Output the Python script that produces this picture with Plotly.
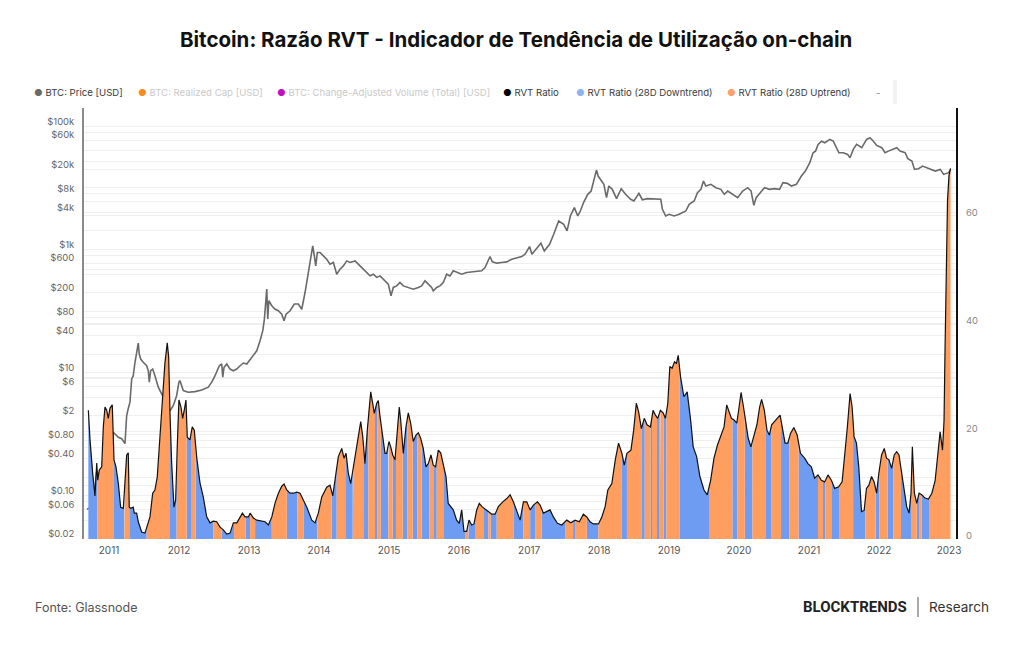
import numpy as np
import pandas as pd
import plotly.graph_objects as go

# ---------------- DATA ----------------
# BTC price: decimal year, USD
price_year = [2010.70, 2010.76, 2010.80, 2010.84, 2010.87, 2010.92, 2010.96, 2011.00, 2011.04, 2011.076,
              2011.147, 2011.196, 2011.243, 2011.267, 2011.29, 2011.314, 2011.339, 2011.361, 2011.386, 2011.41,
              2011.433, 2011.447, 2011.467, 2011.504, 2011.553, 2011.576, 2011.59, 2011.61, 2011.639, 2011.671,
              2011.719, 2011.767, 2011.79, 2011.84, 2011.886, 2011.933, 2011.981, 2012.014, 2012.029, 2012.053,
              2012.076, 2012.147, 2012.243, 2012.339, 2012.433, 2012.481, 2012.529, 2012.59, 2012.624, 2012.639,
              2012.657, 2012.696, 2012.743, 2012.79, 2012.839, 2012.886, 2012.933, 2012.981, 2013.029, 2013.076,
              2013.124, 2013.171, 2013.21, 2013.233, 2013.267, 2013.281, 2013.296, 2013.339, 2013.386, 2013.433,
              2013.481, 2013.514, 2013.543, 2013.6, 2013.661, 2013.719, 2013.767, 2013.814, 2013.853, 2013.886,
              2013.924, 2013.947, 2013.967, 2013.99, 2014.029, 2014.076, 2014.124, 2014.171, 2014.219, 2014.267,
              2014.314, 2014.361, 2014.41, 2014.457, 2014.529, 2014.6, 2014.671, 2014.743, 2014.79, 2014.839,
              2014.886, 2014.957, 2015.004, 2015.043, 2015.076, 2015.124, 2015.171, 2015.219, 2015.29, 2015.361,
              2015.433, 2015.481, 2015.529, 2015.576, 2015.624, 2015.647, 2015.696, 2015.743, 2015.79, 2015.839,
              2015.886, 2015.933, 2015.981, 2016.053, 2016.124, 2016.196, 2016.267, 2016.339, 2016.386, 2016.433,
              2016.457, 2016.49, 2016.553, 2016.624, 2016.696, 2016.767, 2016.839, 2016.91, 2016.957, 2017.021,
              2017.054, 2017.126, 2017.183, 2017.231, 2017.307, 2017.366, 2017.437, 2017.509, 2017.557, 2017.604,
              2017.661, 2017.71, 2017.747, 2017.796, 2017.853, 2017.901, 2017.939, 2017.977, 2018.001, 2018.034,
              2018.083, 2018.121, 2018.154, 2018.203, 2018.264, 2018.331, 2018.393, 2018.466, 2018.513, 2018.584,
              2018.633, 2018.704, 2018.8, 2018.896, 2018.92, 2018.967, 2019.016, 2019.087, 2019.159, 2019.254,
              2019.303, 2019.374, 2019.421, 2019.47, 2019.507, 2019.541, 2019.613, 2019.684, 2019.756, 2019.804,
              2019.853, 2019.924, 2019.996, 2020.067, 2020.139, 2020.187, 2020.226, 2020.259, 2020.321, 2020.379,
              2020.45, 2020.521, 2020.593, 2020.641, 2020.703, 2020.761, 2020.833, 2020.904, 2020.961, 2021.024,
              2021.071, 2021.106, 2021.143, 2021.191, 2021.239, 2021.311, 2021.359, 2021.407, 2021.44, 2021.503,
              2021.564, 2021.599, 2021.646, 2021.693, 2021.766, 2021.837, 2021.884, 2021.933, 2021.98, 2022.053,
              2022.1, 2022.147, 2022.196, 2022.267, 2022.314, 2022.387, 2022.426, 2022.483, 2022.521, 2022.579,
              2022.636, 2022.699, 2022.77, 2022.817, 2022.889, 2022.937, 2023.009, 2023.036]
price_usd = [0.06, 0.065, 0.10, 0.25, 0.22, 0.24, 0.27, 0.30, 0.60, 1.07,
             0.89, 0.84, 0.70, 2.0, 2.6, 3.3, 7.9, 8.9, 14.7, 21.3,
             30.2, 20, 16.6, 14.7, 12.9, 10.7, 7.0, 10.7, 11.4, 8.9,
             5.8, 4.5, 4.0, 3.0, 2.4, 2.9, 4.2, 7.0, 7.4, 6.1,
             5.1, 4.8, 4.9, 5.2, 5.8, 7.0, 8.9, 12.9, 13.8, 8.4,
             12.2, 13.8, 11.4, 10.7, 11.4, 12.9, 14.3, 13.8, 16.2, 18.8,
             22.6, 32.9, 47.9, 74, 227, 74, 147, 122, 107, 101,
             89, 69.5, 89, 101, 130, 130, 107, 200, 373, 695,
             1143, 787, 542, 893, 893, 787, 695, 577, 615, 397,
             479, 542, 653, 615, 653, 542, 450, 373, 397, 352,
             373, 310, 274, 177, 242, 256, 291, 256, 242, 227,
             242, 256, 310, 274, 242, 213, 242, 256, 291, 397,
             373, 450, 424, 397, 424, 432, 450, 450, 510, 695,
             769, 630, 600, 615, 630, 695, 741, 769, 839, 1117,
             839, 1076, 1265, 948, 1219, 1770, 2911, 2570, 2004, 3508,
             4797, 3508, 4227, 5916, 7888, 8913, 12970, 19540, 15630, 13800,
             11460, 6966, 10770, 9506, 6714, 9750, 7888, 6546, 6138, 8185,
             6440, 6714, 6546, 6546, 4498, 3508, 3733, 3508, 3733, 4227,
             5432, 6138, 8395, 9506, 12970, 10770, 11460, 10120, 9506, 7888,
             8913, 7888, 6966, 8913, 10120, 8913, 5224, 6966, 8395, 10120,
             9506, 9750, 9506, 12190, 11880, 10770, 11460, 15630, 18840, 25760,
             37410, 39720, 51050, 57680, 54330, 61520, 57680, 45080, 37410, 37410,
             35160, 31050, 42360, 51050, 45080, 61520, 65610, 57680, 49200, 45080,
             37410, 39720, 42360, 45080, 39720, 37410, 29920, 27350, 20050, 20600,
             22700, 21380, 19540, 18840, 20050, 16630, 17740, 19900]

# RVT ratio: decimal year, ratio
rvt_year = [2010.719, 2010.743, 2010.781, 2010.814, 2010.839, 2010.853, 2010.876, 2010.91, 2010.933, 2010.957,
            2010.981, 2011.004, 2011.029, 2011.061, 2011.086, 2011.114, 2011.147, 2011.181, 2011.219, 2011.243,
            2011.267, 2011.29, 2011.304, 2011.324, 2011.361, 2011.376, 2011.41, 2011.433, 2011.481, 2011.529,
            2011.553, 2011.6, 2011.639, 2011.671, 2011.704, 2011.743, 2011.781, 2011.814, 2011.847, 2011.867,
            2011.886, 2011.91, 2011.943, 2011.967, 2011.99, 2012.014, 2012.043, 2012.067, 2012.09, 2012.114,
            2012.133, 2012.171, 2012.204, 2012.233, 2012.267, 2012.314, 2012.361, 2012.41, 2012.457, 2012.504,
            2012.553, 2012.6, 2012.647, 2012.696, 2012.743, 2012.79, 2012.839, 2012.886, 2012.919, 2012.957,
            2013.004, 2013.029, 2013.076, 2013.124, 2013.196, 2013.243, 2013.29, 2013.339, 2013.386, 2013.433,
            2013.481, 2013.514, 2013.553, 2013.6, 2013.647, 2013.696, 2013.743, 2013.79, 2013.839, 2013.91,
            2013.957, 2014.004, 2014.053, 2014.124, 2014.171, 2014.21, 2014.243, 2014.29, 2014.339, 2014.371,
            2014.4, 2014.433, 2014.467, 2014.504, 2014.543, 2014.576, 2014.61, 2014.639, 2014.671, 2014.704,
            2014.733, 2014.753, 2014.781, 2014.804, 2014.839, 2014.861, 2014.886, 2014.924, 2014.957, 2014.981,
            2015.014, 2015.039, 2015.067, 2015.1, 2015.133, 2015.161, 2015.181, 2015.219, 2015.257, 2015.29,
            2015.324, 2015.361, 2015.4, 2015.433, 2015.467, 2015.504, 2015.543, 2015.576, 2015.614, 2015.647,
            2015.681, 2015.719, 2015.753, 2015.79, 2015.829, 2015.861, 2015.9, 2015.933, 2015.981, 2016.019,
            2016.053, 2016.086, 2016.124, 2016.157, 2016.196, 2016.229, 2016.267, 2016.304, 2016.343, 2016.386,
            2016.433, 2016.481, 2016.529, 2016.576, 2016.639, 2016.696, 2016.743, 2016.79, 2016.839, 2016.886,
            2016.933, 2016.981, 2017.029, 2017.076, 2017.133, 2017.171, 2017.219, 2017.267, 2017.314, 2017.361,
            2017.419, 2017.481, 2017.553, 2017.61, 2017.671, 2017.733, 2017.79, 2017.839, 2017.886, 2017.933,
            2018.006, 2018.054, 2018.101, 2018.14, 2018.197, 2018.246, 2018.293, 2018.341, 2018.374, 2018.413,
            2018.47, 2018.509, 2018.547, 2018.58, 2018.619, 2018.661, 2018.7, 2018.749, 2018.786, 2018.82,
            2018.853, 2018.891, 2018.93, 2018.963, 2018.997, 2019.026, 2019.059, 2019.093, 2019.121, 2019.146,
            2019.179, 2019.227, 2019.274, 2019.323, 2019.36, 2019.409, 2019.456, 2019.514, 2019.561, 2019.609,
            2019.657, 2019.706, 2019.753, 2019.801, 2019.839, 2019.873, 2019.906, 2019.944, 2019.983, 2020.016,
            2020.044, 2020.079, 2020.111, 2020.146, 2020.184, 2020.221, 2020.27, 2020.309, 2020.337, 2020.376,
            2020.413, 2020.447, 2020.48, 2020.519, 2020.567, 2020.6, 2020.639, 2020.671, 2020.71, 2020.749,
            2020.796, 2020.844, 2020.891, 2020.95, 2020.997, 2021.046, 2021.093, 2021.141, 2021.189, 2021.237,
            2021.284, 2021.333, 2021.38, 2021.437, 2021.486, 2021.524, 2021.561, 2021.6, 2021.629, 2021.657,
            2021.691, 2021.724, 2021.763, 2021.801, 2021.834, 2021.869, 2021.907, 2021.944, 2021.979, 2022.011,
            2022.05, 2022.089, 2022.121, 2022.156, 2022.194, 2022.231, 2022.266, 2022.299, 2022.327, 2022.361,
            2022.409, 2022.443, 2022.471, 2022.49, 2022.519, 2022.553, 2022.586, 2022.624, 2022.671, 2022.72,
            2022.769, 2022.816, 2022.854, 2022.887, 2022.921, 2022.943, 2022.957, 2022.976, 2022.993, 2023.014,
            2023.036]
rvt_value = [23.9, 18.4, 12.2, 8.0, 14.1, 10.9, 12.8, 13.4, 20.8, 24.5,
             23.9, 22.4, 24.3, 24.9, 14.7, 13.4, 10.4, 5.9, 5.7, 10.4,
             15.6, 16.0, 5.9, 5.7, 5.9, 4.8, 4.8, 3.2, 1.3, 1.1,
             2.2, 4.1, 8.5, 9.1, 11.5, 18.4, 26.3, 32.7, 36.4, 33.8,
             23.6, 14.1, 5.9, 7.2, 17.1, 25.8, 24.5, 22.4, 23.9, 25.8,
             18.9, 18.4, 20.8, 20.2, 15.2, 10.4, 7.8, 4.1, 3.0, 3.3,
             3.2, 2.2, 1.7, 0.9, 1.1, 3.0, 3.0, 4.1, 4.8, 4.1,
             4.1, 4.8, 3.9, 3.5, 3.3, 3.2, 2.6, 4.1, 6.7, 8.5,
             9.8, 10.2, 9.1, 8.5, 8.5, 8.7, 8.5, 7.2, 5.9, 3.5,
             3.0, 4.8, 7.8, 9.6, 10.0, 8.0, 10.9, 15.3, 16.8, 15.0,
             15.9, 12.2, 10.3, 13.4, 16.5, 19.6, 21.8, 19.0, 14.0, 20.2,
             25.2, 27.3, 25.2, 23.3, 25.2, 25.7, 22.7, 19.0, 15.9, 15.9,
             18.1, 17.1, 15.6, 14.7, 20.2, 24.5, 22.1, 15.9, 20.8, 23.4,
             21.5, 18.1, 19.3, 19.7, 18.7, 16.8, 13.4, 14.0, 15.6, 13.7,
             13.4, 16.5, 16.0, 14.0, 11.6, 6.6, 6.0, 5.4, 3.5, 2.9,
             5.4, 1.4, 1.4, 3.5, 2.6, 2.8, 5.4, 6.6, 6.0, 5.5,
             5.1, 4.6, 4.6, 6.0, 6.9, 7.5, 8.2, 6.9, 5.1, 3.5,
             6.9, 6.9, 5.4, 6.3, 6.9, 6.3, 4.8, 5.1, 5.4, 4.1,
             2.9, 2.6, 3.5, 3.0, 3.5, 3.2, 4.6, 4.1, 3.2, 2.8,
             2.8, 4.1, 6.0, 9.1, 10.3, 14.7, 17.8, 15.9, 13.7, 15.9,
             16.5, 20.2, 25.2, 23.6, 20.5, 22.4, 21.2, 20.8, 23.9, 23.0,
             22.4, 23.9, 23.4, 22.4, 25.2, 32.0, 31.7, 32.9, 32.6, 34.1,
             30.1, 26.4, 27.3, 22.1, 17.1, 15.3, 11.6, 9.1, 8.2, 10.9,
             15.0, 17.4, 19.3, 20.8, 24.9, 23.6, 22.4, 22.1, 21.5, 24.5,
             27.2, 24.5, 22.1, 18.7, 17.1, 18.7, 21.2, 24.5, 25.9, 23.9,
             20.2, 19.3, 21.2, 21.8, 22.4, 23.0, 20.2, 17.8, 17.8, 19.6,
             20.7, 19.3, 15.9, 15.0, 14.0, 13.4, 11.3, 11.9, 10.9, 10.6,
             11.9, 10.9, 9.4, 9.7, 10.6, 15.3, 20.8, 27.0, 24.5, 19.0,
             17.8, 13.4, 5.1, 5.3, 9.4, 10.0, 11.6, 10.6, 8.5, 12.2,
             15.6, 16.8, 15.0, 14.7, 13.1, 15.6, 16.2, 15.6, 13.1, 10.3,
             6.0, 4.8, 8.5, 17.1, 8.5, 6.6, 8.5, 8.2, 7.6, 7.4,
             8.5, 10.9, 15.9, 19.9, 16.5, 22.0, 35.0, 55.0, 63.0, 67.5,
             68.8]

# 28-day uptrend periods (decimal years); everything else is downtrend
uptrend_start = [2010.847, 2011.233, 2011.553, 2011.981, 2012.186, 2012.504, 2012.8, 2013.029, 2013.339, 2013.704,
                 2013.99, 2014.267, 2014.496, 2014.719, 2014.847, 2015.004, 2015.114, 2015.276, 2015.419, 2015.59,
                 2015.696, 2016.1, 2016.243, 2016.433, 2016.553, 2016.933, 2017.1, 2017.529, 2017.671, 2018.006,
                 2018.413, 2018.667, 2018.771, 2018.881, 2018.977, 2019.586, 2019.993, 2020.207, 2020.48, 2020.734,
                 2021.141, 2021.246, 2021.451, 2021.82, 2022.017, 2022.217, 2022.471, 2022.586, 2022.729]
uptrend_end = [2011.076, 2011.304, 2011.876, 2012.124, 2012.253, 2012.624, 2012.967, 2013.1, 2013.553, 2013.79,
               2014.196, 2014.4, 2014.657, 2014.814, 2014.896, 2015.067, 2015.21, 2015.353, 2015.481, 2015.647,
               2015.79, 2016.147, 2016.361, 2016.467, 2016.79, 2017.029, 2017.196, 2017.643, 2017.839, 2018.341,
               2018.619, 2018.749, 2018.843, 2018.94, 2019.169, 2019.92, 2020.097, 2020.399, 2020.614, 2020.863,
               2021.213, 2021.341, 2021.643, 2021.964, 2022.136, 2022.327, 2022.553, 2022.624, 2023.05]

price_tick_values = [0.02, 0.04, 0.06, 0.08, 0.1, 0.2, 0.4, 0.6, 0.8, 1, 2, 4, 6, 8, 10, 20, 40, 60, 80,
                     100, 200, 400, 600, 800, 1000, 2000, 4000, 6000, 8000, 10000, 20000, 40000, 60000,
                     80000, 100000, 200000]
price_tick_text = ["$0.02", "", "$0.06", "", "$0.10", "", "$0.40", "", "$0.80", "", "$2", "", "$6", "", "$10",
                   "", "$40", "", "$80", "", "$200", "", "$600", "", "$1k", "", "$4k", "", "$8k", "", "$20k",
                   "", "$60k", "", "$100k", ""]
rvt_tick_values = [0, 10, 20, 30, 40, 50, 60, 70, 80]
rvt_tick_text = ["0", "", "20", "", "40", "", "60", "", ""]
year_ticks = list(range(2011, 2024))

# ---------------- HELPERS ----------------
def yr(y):
    y0 = int(np.floor(y))
    a = pd.Timestamp(year=y0, month=1, day=1)
    b = pd.Timestamp(year=y0 + 1, month=1, day=1)
    return a + (b - a) * (y - y0)

ORANGE = "#FF9E5E"
BLUE = "#6E9CF2"

T = np.array(rvt_year)
V = np.array(rvt_value)
edges = sorted(set([T[0], T[-1]] + [e for e in uptrend_start + uptrend_end if T[0] < e < T[-1]]))


def is_up(m):
    return any(s <= m < e for s, e in zip(uptrend_start, uptrend_end))


polys = {True: ([], []), False: ([], [])}
for a, b in zip(edges[:-1], edges[1:]):
    key = is_up((a + b) / 2)
    inner = list(T[(T > a) & (T < b)])
    xs = [a] + inner + [b]
    ys = list(np.interp(xs, T, V))
    px, py = polys[key]
    px += [yr(x) for x in [a] + xs + [b]] + [None]
    py += [0] + ys + [0] + [None]

fig = go.Figure()

fig.add_trace(go.Scatter(x=[yr(y) for y in price_year], y=price_usd, mode="lines",
                         line=dict(color="#6a6a6a", width=1.6), yaxis="y", showlegend=False,
                         name="BTC: Price [USD]"))
fig.add_trace(go.Scatter(x=polys[False][0], y=polys[False][1], mode="lines", fill="toself",
                         fillcolor=BLUE, line=dict(width=0, color=BLUE), yaxis="y2", showlegend=False,
                         name="RVT Ratio (28D Downtrend)"))
fig.add_trace(go.Scatter(x=polys[True][0], y=polys[True][1], mode="lines", fill="toself",
                         fillcolor=ORANGE, line=dict(width=0, color=ORANGE), yaxis="y2", showlegend=False,
                         name="RVT Ratio (28D Uptrend)"))
fig.add_trace(go.Scatter(x=[yr(y) for y in rvt_year], y=rvt_value, mode="lines",
                         line=dict(color="#111111", width=1.2), yaxis="y2", showlegend=False,
                         name="RVT Ratio"))

L, R, TOP, BOT = 84, 956, 108, 539
W, H = 1024, 645


def PX(p):
    return (p - L) / (R - L)


def PY(p):
    return (BOT - p) / (BOT - TOP)


FONT = "Inter, Roboto, sans-serif"
annotations = []
annotations.append(dict(text="<b>Bitcoin: Razão RVT - Indicador de Tendência de Utilização on-chain</b>",
                        x=PX(516), y=PY(40), xref="paper", yref="paper", xanchor="center", yanchor="middle",
                        showarrow=False, font=dict(family=FONT, size=20.5, color="#111111")))

legend_items = [
    ("#6a6a6a", "BTC: Price [USD]", 32, "#3a3a3a"),
    ("#FF8A1F", "BTC: Realized Cap [USD]", 136, "#c9c9c9"),
    ("#C010C0", "BTC: Change-Adjusted Volume (Total) [USD]", 275, "#c9c9c9"),
    ("#000000", "RVT Ratio", 501, "#3a3a3a"),
    ("#8DB3F7", "RVT Ratio (28D Downtrend)", 574, "#3a3a3a"),
    ("#FFA066", "RVT Ratio (28D Uptrend)", 725, "#3a3a3a"),
]
for dot, label, x0, tc in legend_items:
    annotations.append(dict(text=f"<span style='color:{dot}'>●</span> {label}", x=PX(x0), y=PY(92),
                            xref="paper", yref="paper", xanchor="left", yanchor="middle", showarrow=False,
                            font=dict(family=FONT, size=9.6, color=tc)))
annotations.append(dict(text="-", x=PX(878), y=PY(92), xref="paper", yref="paper", xanchor="center",
                        yanchor="middle", showarrow=False, font=dict(family=FONT, size=9.6, color="#888888")))

annotations.append(dict(text="Fonte: Glassnode", x=PX(33), y=PY(607), xref="paper", yref="paper",
                        xanchor="left", yanchor="middle", showarrow=False,
                        font=dict(family=FONT, size=12.5, color="#555555")))
annotations.append(dict(text="<b>BLOCKTRENDS</b>", x=PX(909), y=PY(607), xref="paper", yref="paper",
                        xanchor="right", yanchor="middle", showarrow=False,
                        font=dict(family="Roboto, Inter, sans-serif", size=15, color="#222222")))
annotations.append(dict(text="Research", x=PX(927), y=PY(607), xref="paper", yref="paper",
                        xanchor="left", yanchor="middle", showarrow=False,
                        font=dict(family=FONT, size=13.6, color="#333333")))

shapes = [
    dict(type="line", xref="paper", yref="paper", x0=PX(918), x1=PX(918), y0=PY(597), y1=PY(617),
         line=dict(color="#555555", width=1)),
    dict(type="rect", xref="paper", yref="paper", x0=PX(893), x1=PX(897), y0=PY(80), y1=PY(104),
         fillcolor="#f2f2f2", line=dict(width=0)),
]

fig.update_layout(
    width=W, height=H,
    margin=dict(l=L, r=W - R, t=TOP, b=H - BOT, pad=0),
    paper_bgcolor="white", plot_bgcolor="white",
    showlegend=False,
    font=dict(family=FONT, color="#666666"),
    annotations=annotations,
    shapes=shapes,
    xaxis=dict(type="date", range=[yr(2010.657), yr(2023.114)], showgrid=False, zeroline=False,
               showline=False, tickvals=[yr(y) for y in year_ticks], ticktext=[str(y) for y in year_ticks],
               ticks="", tickfont=dict(family=FONT, size=10, color="#555555"), ticklabelshift=1,
               ticklabelstandoff=4),
    yaxis=dict(type="log", range=[-1.705, 5.30], tickvals=price_tick_values, ticktext=price_tick_text,
               showgrid=True, gridcolor="#efefef", gridwidth=1, zeroline=False, showline=True,
               linecolor="#8a8a8a", linewidth=1.5, ticks="", ticklabelshift=-5, ticklabelstandoff=6,
               tickfont=dict(family=FONT, size=9.5, color="#666666")),
    yaxis2=dict(overlaying="y", side="right", range=[0, 80], tickvals=rvt_tick_values, ticktext=rvt_tick_text,
                showgrid=True, gridcolor="#efefef", gridwidth=1, zeroline=False, showline=True,
                linecolor="#111111", linewidth=2, ticks="", ticklabelshift=-3, ticklabelstandoff=6,
                tickfont=dict(family=FONT, size=9.5, color="#888888")),
)

fig.write_html("out.html")
